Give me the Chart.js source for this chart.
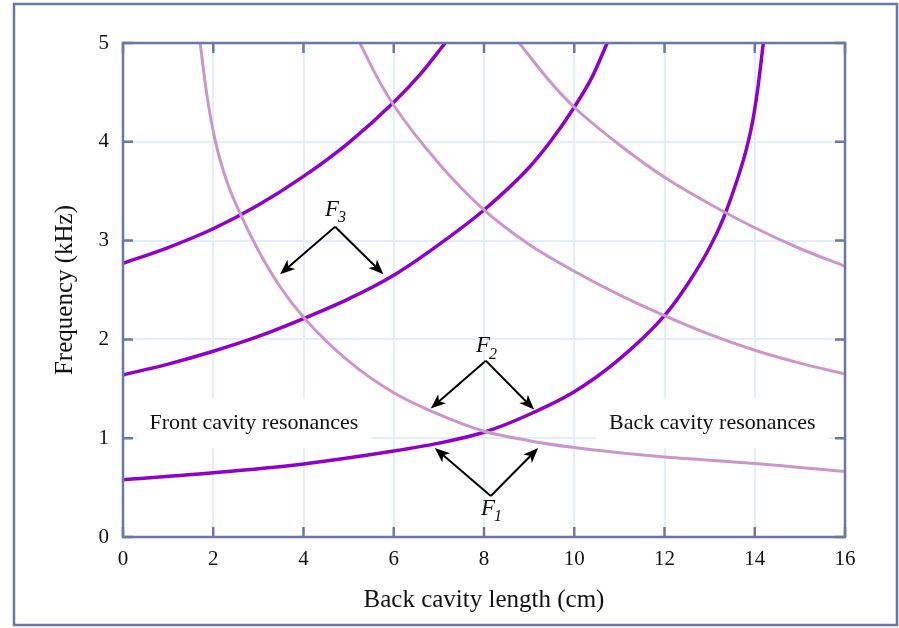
<!DOCTYPE html>
<html>
<head>
<meta charset="utf-8">
<script src="https://cdn.jsdelivr.net/npm/chart.js@4.4.1/dist/chart.umd.min.js"></script>
<style>
  html, body { margin: 0; padding: 0; background: #fff; }
  #wrap { width: 899px; height: 628px; }
</style>
</head>
<body>
<div id="wrap"><canvas id="resChart" width="899" height="628"></canvas></div>
<script>
// resonances of a two-tube vocal tract model vs. back cavity length
const xTicks = [0, 2, 4, 6, 8, 10, 12, 14, 16];
const yTicks = [0, 1, 2, 3, 4, 5];

// front cavity resonances (rise as the back cavity grows)
const front1X = [0, 2, 4, 6, 7, 8, 9, 10, 11, 12, 12.5, 13, 13.3, 13.6, 13.8, 13.95, 14.07, 14.19];
const front1Y = [0.58, 0.65, 0.74, 0.87, 0.95, 1.06, 1.24, 1.47, 1.80, 2.24, 2.55, 2.93, 3.22, 3.60, 3.90, 4.20, 4.55, 5.0];
const front2X = [0, 1, 2, 3, 4, 5, 6, 7, 8, 9, 9.5, 10, 10.4, 10.73];
const front2Y = [1.64, 1.75, 1.88, 2.03, 2.21, 2.41, 2.65, 2.96, 3.31, 3.74, 4.02, 4.35, 4.66, 5.0];
const front3X = [0, 1, 2, 3, 4, 5, 6, 6.6, 7.14];
const front3Y = [2.77, 2.93, 3.12, 3.36, 3.65, 3.99, 4.40, 4.69, 5.0];

// back cavity resonances (fall as the back cavity grows)
const back1X = [1.71, 1.85, 2.04, 2.3, 2.59, 3, 3.5, 4.03, 5, 6, 7, 8, 9, 10, 11, 12, 13, 14, 15, 16];
const back1Y = [5.0, 4.5, 4.02, 3.6, 3.28, 2.9, 2.52, 2.21, 1.78, 1.46, 1.24, 1.07, 0.975, 0.905, 0.852, 0.81, 0.778, 0.744, 0.704, 0.664];
const back2X = [5.25, 5.6, 6, 7, 8, 9, 10, 11, 12, 13, 14, 15, 16];
const back2Y = [5.0, 4.68, 4.37, 3.78, 3.31, 2.96, 2.69, 2.45, 2.24, 2.05, 1.89, 1.76, 1.65];
const back3X = [8.78, 9.5, 10, 11, 12, 13, 14, 15, 16];
const back3Y = [5.0, 4.59, 4.35, 3.97, 3.64, 3.37, 3.13, 2.92, 2.74];

const SERIF = '"Liberation Serif", "Times New Roman", "DejaVu Serif", serif';
const FRONT_COLOR = '#8f00c8';
const BACK_COLOR = '#cc96cc';
const AXIS_COLOR = '#6a79a4';

// callouts, in data units
const regionLabels = [
  { text: 'Front cavity resonances', x: 2.90, y: 1.15 },
  { text: 'Back cavity resonances', x: 13.06, y: 1.15 }
];
const formantLabels = [
  { sub: '3', x: 4.63, y: 3.31 },
  { sub: '2', x: 7.98, y: 1.93 },
  { sub: '1', x: 8.09, y: 0.283 }
];
const arrows = [
  { from: [4.70, 3.14], to: [3.48, 2.66] },
  { from: [4.70, 3.14], to: [5.77, 2.66] },
  { from: [8.04, 1.785], to: [6.82, 1.30] },
  { from: [8.04, 1.785], to: [9.11, 1.29] },
  { from: [8.15, 0.415], to: [6.91, 0.90] },
  { from: [8.15, 0.415], to: [9.20, 0.90] }
];

const pts = (xs, ys) => xs.map((x, i) => ({ x: x, y: ys[i] }));

const curve = (data, color, width) => ({
  data: data,
  showLine: true,
  borderColor: color,
  borderWidth: width,
  pointRadius: 0,
  cubicInterpolationMode: 'monotone',
  fill: false
});

function arrowHead(ctx, x0, y0, x1, y1) {
  const ang = Math.atan2(y1 - y0, x1 - x0);
  const len = 15, half = 6, notch = 4;
  ctx.save();
  ctx.translate(x1, y1);
  ctx.rotate(ang);
  ctx.beginPath();
  ctx.moveTo(0, 0);
  ctx.lineTo(-len, -half);
  ctx.lineTo(-len + notch, 0);
  ctx.lineTo(-len, half);
  ctx.closePath();
  ctx.fill();
  ctx.restore();
}

const decorations = {
  id: 'decorations',
  beforeDraw(chart) {
    const ctx = chart.ctx;
    ctx.save();
    ctx.fillStyle = '#ffffff';
    ctx.fillRect(0, 0, chart.width, chart.height);
    // outer frame
    ctx.strokeStyle = AXIS_COLOR;
    ctx.lineWidth = 2.5;
    ctx.strokeRect(14, 4, 883, 621);
    ctx.restore();
  },
  beforeDatasetsDraw(chart) {
    // white boxes behind the region labels hide the grid
    const ctx = chart.ctx, xs = chart.scales.x, ys = chart.scales.y;
    ctx.save();
    ctx.font = '22px ' + SERIF;
    ctx.fillStyle = '#ffffff';
    regionLabels.forEach(l => {
      const w = ctx.measureText(l.text).width;
      const cx = xs.getPixelForValue(l.x), cy = ys.getPixelForValue(l.y);
      ctx.fillRect(cx - w / 2 - 13, cy - 25, w + 26, 50);
    });
    ctx.restore();
  },
  afterDatasetsDraw(chart) {
    const ctx = chart.ctx, xs = chart.scales.x, ys = chart.scales.y;
    const a = chart.chartArea;
    ctx.save();

    // axis box with inward ticks on all sides
    ctx.strokeStyle = AXIS_COLOR;
    ctx.lineWidth = 2.5;
    ctx.strokeRect(a.left, a.top, a.right - a.left, a.bottom - a.top);
    ctx.beginPath();
    xTicks.forEach(v => {
      const px = xs.getPixelForValue(v);
      ctx.moveTo(px, a.bottom); ctx.lineTo(px, a.bottom - 10);
      ctx.moveTo(px, a.top); ctx.lineTo(px, a.top + 10);
    });
    yTicks.forEach(v => {
      const py = ys.getPixelForValue(v);
      ctx.moveTo(a.left, py); ctx.lineTo(a.left + 10, py);
      ctx.moveTo(a.right, py); ctx.lineTo(a.right - 10, py);
    });
    ctx.stroke();

    // region labels
    ctx.fillStyle = '#111111';
    ctx.font = '22px ' + SERIF;
    ctx.textAlign = 'center';
    ctx.textBaseline = 'middle';
    regionLabels.forEach(l => {
      ctx.fillText(l.text, xs.getPixelForValue(l.x), ys.getPixelForValue(l.y));
    });

    // formant arrows
    ctx.strokeStyle = '#000000';
    ctx.fillStyle = '#000000';
    ctx.lineWidth = 2;
    arrows.forEach(r => {
      const x0 = xs.getPixelForValue(r.from[0]), y0 = ys.getPixelForValue(r.from[1]);
      const x1 = xs.getPixelForValue(r.to[0]), y1 = ys.getPixelForValue(r.to[1]);
      const ang = Math.atan2(y1 - y0, x1 - x0);
      ctx.beginPath();
      ctx.moveTo(x0, y0);
      ctx.lineTo(x1 - Math.cos(ang) * 10, y1 - Math.sin(ang) * 10);
      ctx.stroke();
      arrowHead(ctx, x0, y0, x1, y1);
    });

    // F1, F2, F3 with subscripts
    ctx.fillStyle = '#111111';
    formantLabels.forEach(f => {
      const px = xs.getPixelForValue(f.x), py = ys.getPixelForValue(f.y);
      ctx.font = 'italic 23px ' + SERIF;
      ctx.textAlign = 'center';
      ctx.fillText('F', px, py);
      ctx.font = 'italic 16px ' + SERIF;
      ctx.textAlign = 'left';
      ctx.fillText(f.sub, px + 6, py + 8);
    });
    ctx.restore();
  }
};

new Chart(document.getElementById('resChart'), {
  type: 'scatter',
  data: {
    datasets: [
      curve(pts(back1X, back1Y), BACK_COLOR, 3),
      curve(pts(back2X, back2Y), BACK_COLOR, 3),
      curve(pts(back3X, back3Y), BACK_COLOR, 3),
      curve(pts(front1X, front1Y), FRONT_COLOR, 3.5),
      curve(pts(front2X, front2Y), FRONT_COLOR, 3.5),
      curve(pts(front3X, front3Y), FRONT_COLOR, 3.5)
    ]
  },
  options: {
    responsive: false,
    animation: false,
    layout: { padding: { left: 0, top: 43, right: 54, bottom: 0 } },
    plugins: { legend: { display: false }, tooltip: { enabled: false } },
    scales: {
      x: {
        type: 'linear',
        min: 0, max: 16,
        afterFit: s => { s.height = 91; },
        afterBuildTicks: s => { s.ticks = xTicks.map(v => ({ value: v })); },
        grid: { color: '#e4edfb', lineWidth: 2, drawTicks: false },
        border: { display: false },
        ticks: { color: '#111', padding: 10, font: { family: SERIF, size: 21 } },
        title: {
          display: true, text: 'Back cavity length (cm)', color: '#111',
          font: { family: SERIF, size: 25 }, padding: { top: 0, bottom: 13 }
        }
      },
      y: {
        type: 'linear',
        min: 0, max: 5,
        afterFit: s => { s.width = 123; },
        afterBuildTicks: s => { s.ticks = yTicks.map(v => ({ value: v })); },
        grid: { color: '#e4edfb', lineWidth: 2, drawTicks: false },
        border: { display: false },
        ticks: { color: '#111', padding: 14, font: { family: SERIF, size: 21 } },
        title: {
          display: true, text: 'Frequency (kHz)', color: '#111',
          font: { family: SERIF, size: 25 }, padding: { top: 50, bottom: 0 }
        }
      }
    }
  },
  plugins: [decorations]
});
</script>
</body>
</html>
